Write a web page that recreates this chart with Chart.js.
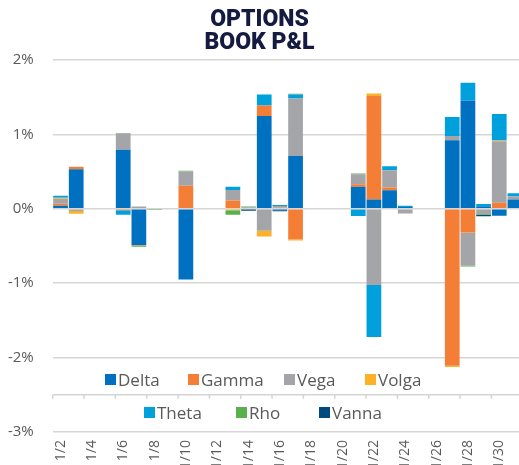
<!DOCTYPE html>
<html>
<head>
<meta charset="utf-8">
<script src="https://cdn.jsdelivr.net/npm/chart.js@4.4.0/dist/chart.umd.min.js"></script>
<style>
  html, body { margin:0; padding:0; background:#fff; overflow:hidden; width:519px; height:465px; }
  #wrap { position:relative; width:540px; height:480px; }
  #c { position:absolute; left:0; top:0; }
  .title { position:absolute; left:0; width:519px; text-align:center; font-family:Roboto, Inter, sans-serif; font-weight:900; font-size:23px; line-height:23px; color:#141a40; letter-spacing:0px; }
  .lg { position:absolute; font-family:"Open Sans", sans-serif; font-size:17px; color:#595959; white-space:nowrap; line-height:20px; }
  .sq { position:absolute; width:11px; height:11px; }
</style>
</head>
<body>
<div id="wrap">
  <canvas id="c" width="540" height="480"></canvas>
  <div class="title" style="top:7px">OPTIONS</div>
  <div class="title" style="top:30px">BOOK P&amp;L</div>
  <div id="legend"></div>
</div>
<script>
const dates = ["1/2","1/3","1/4","1/5","1/6","1/7","1/8","1/9","1/10","1/11","1/12","1/13","1/14","1/15","1/16","1/17","1/18","1/19","1/20","1/21","1/22","1/23","1/24","1/25","1/26","1/27","1/28","1/29","1/30","1/31"];
const delta = [0.04, 0.53, 0, 0, 0.795, -0.49, 0, 0, -0.95, 0, 0, 0, 0, 1.247, -0.02, 0.71, 0, 0, 0, 0.295, 0.125, 0.25, 0.025, 0, 0, 0.92, 1.457, 0.035, -0.094, 0.125];
const gamma = [0.027, 0.035, 0, 0, -0.02, 0, 0, 0, 0.31, 0, 0, 0.11, 0, 0.143, 0.015, -0.41, 0, 0, 0, 0.036, 1.39, 0.036, 0, 0, 0, -2.11, -0.32, 0, 0.08, 0];
const vega  = [0.067, -0.03, 0, 0, 0.22, 0.03, 0, 0, 0.19, 0, 0, 0.143, 0.02, -0.295, 0.022, 0.773, 0, 0, 0, 0.134, -1.023, 0.232, -0.063, 0, 0, 0.058, -0.447, -0.07, 0.827, 0.045];
const volga = [0.013, -0.035, 0, 0, 0, -0.01, 0, 0, 0, 0, 0, -0.02, 0, -0.076, 0, -0.015, 0, 0, 0, 0, 0.036, 0, 0, 0, 0, -0.018, 0, 0, 0.01, 0];
const theta = [0.027, 0, 0, 0, -0.06, 0, 0, 0, 0, 0, 0, 0.045, 0, 0.147, 0.013, 0.054, 0, 0, 0, -0.098, -0.70, 0.054, 0.015, 0, 0, 0.255, 0.236, 0.03, 0.357, 0.04];
const rho   = [0, 0, 0, 0, 0.005, -0.01, -0.015, 0, 0.012, 0, 0, -0.06, 0.01, 0, 0, 0.01, 0, 0, 0, 0.008, 0, 0, 0, 0, 0, 0, -0.01, -0.01, 0, 0];
const vanna = [0, 0, 0, 0, 0, 0, 0, 0, 0, 0, 0, 0, -0.025, 0, -0.012, 0, 0, 0, 0, 0, 0, 0, 0, 0, 0, 0, 0, -0.02, 0, 0];
const seriesNames = ["Delta","Gamma","Vega","Volga","Theta","Rho","Vanna"];
const yTicks = [2, 1, 0, -1, -2, -3];

const colors = ["#0070c0","#f47e36","#a3a5a8","#fdb226","#00a0dc","#5bb04e","#02497e"];
const seriesData = [delta, gamma, vega, volga, theta, rho, vanna];

const datasets = seriesNames.map((n, i) => ({
  label: n, data: seriesData[i], backgroundColor: colors[i], borderWidth: 0,
  barPercentage: 0.94, categoryPercentage: 1.0
}));

// legend (HTML text) layout
const legendPos = [[105,370],[188,370],[284,370],[365,370],[144,403],[236,403],[319,403]];
const lg = document.getElementById('legend');
seriesNames.forEach((n, i) => {
  const [x, y] = legendPos[i];
  const sq = document.createElement('div'); sq.className = 'sq';
  sq.style.left = x + 'px'; sq.style.top = (y + 4) + 'px'; sq.style.background = colors[i];
  const t = document.createElement('div'); t.className = 'lg';
  t.style.left = (x + 13) + 'px'; t.style.top = y + 'px'; t.textContent = n;
  lg.appendChild(sq); lg.appendChild(t);
});

const axisLine = {
  id: 'axisLine',
  beforeDatasetsDraw(chart) {
    const {ctx, chartArea, scales} = chart;
    const y = scales.y.getPixelForValue(-2.5);
    const n = dates.length;
    const w = (chartArea.right - chartArea.left) / n;
    ctx.save();
    ctx.strokeStyle = '#d4d4d4'; ctx.lineWidth = 1.5;
    ctx.beginPath(); ctx.moveTo(chartArea.left, y); ctx.lineTo(chartArea.right, y); ctx.stroke();
    for (let k = 0; k <= n; k += 2) {
      const x = chartArea.left + k * w;
      ctx.beginPath(); ctx.moveTo(x, y); ctx.lineTo(x, y + 4); ctx.stroke();
    }
    ctx.restore();
  }
};

new Chart(document.getElementById('c'), {
  type: 'bar',
  data: { labels: dates, datasets },
  options: {
    responsive: false, animation: false,
    layout: { padding: { top: 60, right: 17, left: 0, bottom: 0 } },
    plugins: { legend: { display: false }, title: { display: false }, tooltip: { enabled: false } },
    scales: {
      x: {
        stacked: true,
        grid: { display: false, drawTicks: false },
        border: { display: false },
        ticks: {
          autoSkip: false, minRotation: 90, maxRotation: 90, padding: 8,
          color: '#595959', font: { family: 'Open Sans', size: 14 },
          callback: function(v, i) { return i % 2 === 0 ? dates[i] : ''; }
        },
        afterFit(s) { s.height = 48; }
      },
      y: {
        stacked: true, min: -3, max: 2,
        afterBuildTicks(s) { s.ticks = yTicks.map(v => ({ value: v })); },
        grid: { color: '#d6d6d6', lineWidth: 1.5, drawTicks: false },
        border: { display: false },
        ticks: { padding: 19, color: '#595959', font: { family: 'Open Sans', size: 15 },
          callback: v => v + '%' },
        afterFit(s) { s.width = 52.7; }
      }
    }
  },
  plugins: [axisLine]
});
</script>
</body>
</html>
